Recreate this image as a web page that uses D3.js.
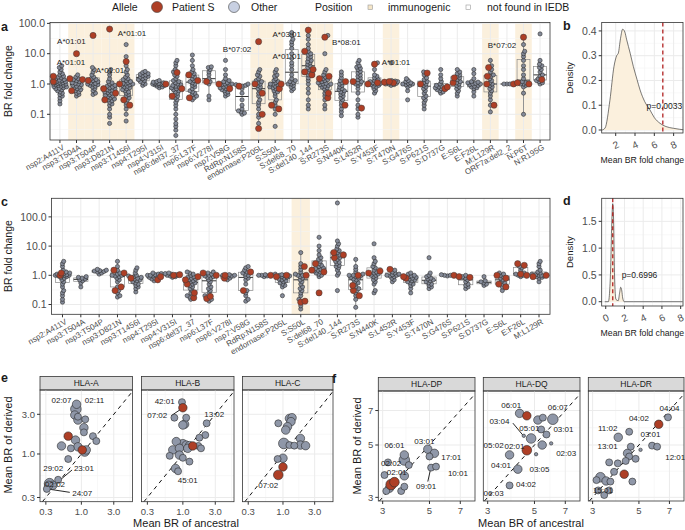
<!DOCTYPE html>
<html><head><meta charset="utf-8">
<script src="https://cdn.jsdelivr.net/npm/d3@7"></script>
<style>body{margin:0;background:#fff}svg{font-family:"Liberation Sans",Arial,sans-serif}</style>
</head><body><svg id="c" width="685" height="530"></svg>
<script>
// ---------------- DATA ----------------
const catsA = ["nsp2:A411V","nsp3:T504A","nsp3:T504P","nsp3:D821N","nsp3:T1456I","nsp4:T295I","nsp4:V315I","nsp6:del37_37","nsp6:L37F","nsp6:V278I","nsp7:V58G","RdRp:N158S","endornase:P205L","S:S50L","S:del68_70","S:del140_144","S:R273S","S:N440K","S:L452R","S:Y453F","S:T470N","S:G476S","S:P621S","S:D737G","E:S6L","E:F26L","M:L129R","ORF7a:del2_2","N:P6T","N:R195G"];
const immunoA = ["nsp3:T504A","nsp3:T504P","nsp3:D821N","nsp3:T1456I","endornase:P205L","S:S50L","S:del140_144","S:R273S","S:T470N","M:L129R","N:P6T"];
const grayA = [
 [0.22,0.28,0.35,0.4,0.45,0.5,0.55,0.6,0.65,0.7,0.72,0.75,0.8,0.82,0.85,0.9,0.92,0.95,1.0,1.0,1.02,1.05,1.1,1.12,1.15,1.2,1.25,1.3,1.35,1.4,1.5,1.6,1.7,1.8,2.0,2.2,2.5,3.0,3.5,4.0],
 [0.4,0.45,0.5,0.55,0.6,0.65,0.7,0.75,0.8,0.85,0.9,0.95,1.0,1.05,1.1,1.2,1.3,1.4,1.5,1.7,2.0],
 [0.45,0.5,0.6,0.7,0.8,0.85,0.9,0.95,1.0,1.0,1.05,1.1,1.2,1.3,1.4,1.5,1.7,2.0,2.5,3.0,3.5],
 [0.05,0.08,0.1,0.15,0.2,0.22,0.25,0.28,0.3,0.32,0.35,0.38,0.4,0.42,0.45,0.5,0.52,0.55,0.6,0.62,0.65,0.7,0.75,0.8,0.85,0.9,1.0,1.1,1.2,1.5,2.0,2.5,3.0],
 [0.06,0.1,0.15,0.2,0.25,0.3,0.35,0.4,0.45,0.5,0.55,0.6,0.65,0.7,0.75,0.8,0.85,0.9,0.95,1.0,1.0,1.05,1.1,1.2,1.3,1.4,1.5,1.7,2.0,2.5,3.0,4.0,8.0,20],
 [0.9,1.0,1.1,1.2,1.3,1.4,1.5,1.6,1.7,1.8,1.9,2.0,2.1,2.2,2.4,2.6],
 [0.75,0.8,0.85,0.9,0.92,0.95,0.98,1.0,1.0,1.02,1.05,1.08,1.1,1.15,1.2,1.3],
 [0.02,0.03,0.04,0.05,0.07,0.1,0.15,0.2,0.25,0.3,0.35,0.4,0.45,0.5,0.55,0.6,0.65,0.7,0.75,0.8,0.85,0.9,0.95,1.0,1.1,1.2,1.3,1.5,1.8,2.0,2.5,3.0,4.0,5.0,6.0],
 [0.3,0.35,0.4,0.45,0.5,0.55,0.6,0.7,0.8,0.9,1.0,1.1,1.2,1.3,1.5,1.7,1.9,2.2,2.5,3.0,4.0,6.0,9.0],
 [0.3,0.4,1.0,1.2,1.5,2.0,2.5,3.0,3.5,3.7],
 [0.4,0.45,0.5,0.55,0.6,0.65,0.7,0.75,0.8,0.85,0.9,0.95,1.0,1.0,1.1,1.2,1.3,1.5,2.0,3.0,6.0],
 [0.1,0.11,0.12,0.13,0.15,0.2,0.3,0.5,0.7,0.85,0.9,0.95,1.0],
 [0.05,0.08,0.1,0.15,0.2,0.25,0.3,0.4,0.5,0.6,0.7,0.8,0.9,1.0,1.1,1.2,1.3,1.5,1.8,2.0,2.5,3.0],
 [0.04,0.1,0.15,0.2,0.25,0.3,0.4,0.5,0.55,0.6,0.7,0.75,0.8,0.85,0.9,1.0,1.0,1.1,1.2,1.3,1.5,1.8,2.0,2.5,3.0],
 [0.6,0.7,0.8,0.9,1.0,1.0,1.1,1.2,1.3,1.5,2.0,3.0,4.0,5.0,7.0,10,15,20,25,30,40,50],
 [0.15,0.2,0.3,0.5,0.7,1.0,1.3,1.6,2.0,2.5,3.0,3.5,4.0,4.5,5.0,5.5,6.0,7.0,8.0,9.0,10,12,15,20,30,40],
 [0.15,0.2,0.3,0.4,0.5,0.6,0.7,0.75,0.8,0.85,0.9,0.95,1.0,1.0,1.05,1.1,1.2,1.3,1.4,1.5,1.7,2.0,2.5,3.0,10,40],
 [0.09,0.12,0.15,0.2,0.25,0.3,0.35,0.4,0.45,0.5,0.55,0.6,0.65,0.7,0.8,0.9,1.0,1.1,1.3,1.6,2.0,2.5],
 [0.08,0.1,0.15,0.2,0.3,0.5,0.7,0.9,1.0,1.0,1.1,1.2,1.4,1.6,1.8,2.0,2.3,2.6,3.0,3.3,3.6,4.0,5.0,6.0],
 [0.5,0.6,0.7,0.8,0.85,0.9,0.95,1.0,1.05,1.1,1.2,1.3,1.4,1.6,1.8,2.0,3.0,5.0],
 [0.9,0.95,1.0,1.0,1.05,1.1,1.15,1.2,1.25,1.3,5.0],
 [0.3,0.6,0.8,0.9,0.95,1.0,1.0,1.05,1.1,1.2,1.3,1.5],
 [0.15,0.2,0.25,0.3,0.35,0.4,0.5,0.6,0.7,0.8,0.9,1.0,1.1,1.2,1.4,1.6,2.0,2.5],
 [0.5,0.55,0.6,0.65,0.7,0.75,0.8,0.85,0.9,1.0,1.2,1.5,2.0,3.0],
 [0.4,0.5,0.6,0.7,0.8,0.9,1.0,1.1,1.2,1.4,1.6,1.8,2.0,2.2,2.5,3.0],
 [0.4,0.55,0.7,0.75,0.8,0.85,0.9,0.95,1.0,1.0,1.05,1.1,1.15,1.2,1.5,2.2,3.0],
 [0.12,0.2,0.3,0.4,0.5,0.6,0.7,0.8,0.9,1.0,1.1,1.3,1.5,1.8,2.0,2.5,3.0,4.0,6.0],
 [1.0,1.0,1.0],
 [0.1,0.5,0.8,0.9,1.0,1.0,1.1,1.2,1.5,2.0,3.0,4.0,6.0,8.0,10,12,20],
 [1.0,1.1,1.2,1.3,1.5,1.8,2.0,2.5,3.0,3.5,4.0,4.5,6.0,45]
];
const redA = [[1.8,1.2],[10,1.5,1.4,0.6],[40,1.3],[65,0.5,0.3,0.7],[5.5,1.0,0.3,0.2],[],[1.0],[2.4,0.4,0.7],[2.0,1.3,0.35],[1.2],[1.0,0.7],[0.85],[25,1.0,0.5,0.1,0.034],[1.0,0.7,0.2,0.15],[],[60,12,3.0,2.5,2.0],[35,1.5,1.8,0.5,0.35],[1.2,0.2],[1.2,0.16],[4.5,1.0,1.1],[1.2,1.15,1.1],[],[2.3,1.0],[0.8,0.7],[1.1,1.6],[],[3.5,1.8,1.0,0.2],[1.0],[35,1.0,1.1],[1.4]];
// allele labels: [text, category index (fractional), value]
const allelesA = [["A*01:01",0.69,24.9],["A*01:01",0.66,5.44],["A*01:01",3.02,2.9],["A*01:01",4.35,47],["B*07:02",10.7,13.9],["A*03:01",13.7,44.8],["A*01:01",13.7,8.4],["B*08:01",17.3,24.4],["A*01:01",20.3,5.44],["B*07:02",26.7,19.4]];

const catsC = ["nsp2:A411V","nsp3:T504A","nsp3:T504P","nsp3:D821N","nsp3:T1456I","nsp4:T295I","nsp4:V315I","nsp6:del37_37","nsp6:L37F","nsp6:V278I","nsp7:V58G","RdRp:N158S","endornase:P205L","S:S50L","S:del68_70","S:del140_144","S:R273S","S:N440K","S:L452R","S:Y453F","S:T470N","S:G476S","S:P621S","S:D737G","E:S6L","E:F26L","M:L129R"];
const immunoC = ["S:S50L"];
const grayC = [
 [0.12,0.15,0.2,0.25,0.3,0.4,0.5,0.6,0.7,0.8,0.85,0.9,0.95,1.0,1.0,1.0,1.0,1.05,1.1,1.15,1.2,1.3,1.5,2.0,2.5,3.0],
 [0.4,0.55,0.65,0.7,0.75,0.8,0.85,0.9],
 [1.1,1.2,1.3,1.35,1.4,1.45,1.5,1.6],
 [0.18,0.2,0.25,0.3,0.4,0.6,0.7,0.8,0.9,0.95,1.0,1.0,1.1,1.2,1.5,2.0,3.0],
 [0.27,0.35,0.4,0.45,0.5,0.55,0.6,0.65,0.7,0.75,0.8,0.85,0.9,0.95,1.0,1.2,1.5,1.8],
 [0.65,0.75,0.8,0.85,0.9,0.95,1.0,1.0,1.05,1.1,1.15,1.2],
 [0.85,0.9,0.95,1.0,1.0,1.05,1.1,1.15,1.2],
 [0.15,0.18,0.2,0.25,0.3,0.35,0.4,0.45,0.5,0.55,0.6,0.65,0.7,0.75,0.8,0.85,0.9,1.0,1.1,1.2,1.3],
 [0.13,0.15,0.2,0.25,0.3,0.35,0.4,0.5,0.6,0.7,0.8,0.85,0.9,0.95,1.0,1.1,1.2,1.3],
 [0.7,0.8,0.9,0.95,1.0,1.0,1.05],
 [0.13,0.15,0.2,0.25,0.3,0.5,0.7,0.8,0.9,1.0,1.1,1.2,1.3,1.5,1.8,2.0],
 [0.9,0.95,1.0,1.0,1.05],
 [0.2,0.4,0.45,0.5,0.55,0.6,0.65,0.7,0.75,0.8,0.85,0.9,0.95,1.0,1.0,1.05,1.1],
 [0.07,0.09,0.15,0.2,0.25,0.3,0.35,0.4,0.5,0.6,0.7,0.8,0.9,1.0,1.0,1.1,1.3,1.6,2.0,2.5,6.0],
 [0.9,1.0,1.1,1.2,1.3,1.4,1.5,1.6,1.7,1.8,2.0,2.2,2.5,3.0,3.5,4.0,5.0,7.0,10,20],
 [0.3,1.0,1.2,1.5,1.8,2.0,2.2,2.5,2.8,3.0,3.5,4.0,4.5,5.0,6.0,7.0,8.0,10,12,15,300],
 [0.08,0.15,0.2,0.25,0.3,0.35,0.4,0.5,0.55,0.6,0.7,0.75,0.8,0.85,0.9,0.95,1.0,1.0,1.1,1.3,1.6,2.0,3.5],
 [0.25,0.3,0.5,0.6,0.7,0.8,0.9,1.0,1.0,1.1,1.2,1.3,1.5,1.8,2.0,2.5,3.0,4.0,12],
 [0.6,0.7,0.8,0.9,0.95,1.0,1.0,1.05,1.1,1.2,1.3,1.5],
 [0.25,0.35,0.45,0.5,0.55,0.6,0.65,0.7,0.75,0.8,0.85,0.9,0.95,1.0,1.1,1.2],
 [0.35,0.4,0.45,0.5,0.55,0.6,0.65,0.7,0.75,0.8,0.9,1.0,1.2,4.0],
 [0.95,1.0,1.0,1.05],
 [0.35,0.4,0.45,0.5,0.6,0.7,0.8,0.9,1.0],
 [0.45,0.5,0.55,0.6,0.65,0.9],
 [0.3,0.4,0.5,0.55,0.6,0.7,0.8,0.9,1.0,1.1,1.2],
 [0.9,1.0,1.0,1.1,1.2,1.5,1.8,2.0],
 [0.6,0.8,0.85,0.9,0.95,1.0,1.0,1.05,1.1,1.2,1.3,1.5,2.0,2.5,3.0]
];
const redC = [[1.0,1.2],[],[],[1.5,1.2,0.4,0.3],[0.8],[0.7,0.9],[1.0,1.05],[0.17,0.25,0.5,0.7,0.9],[0.16,0.19,1.0,1.2],[0.8,1.0],[1.3,0.3],[1.0],[0.9,1.0],[0.12,0.13,2.0,1.0],[0.25,1.3,2.5,1.5],[5.0,4.0,6.0],[0.2,0.3,0.45,1.0],[1.2,1.4],[1.6],[0.9,0.8],[],[1.0],[0.9,0.85],[],[0.5,0.4,1.0,0.8],[2.5,2.2,1.0,1.1],[1.0,0.9]];

// density curves (mean BR fold change, density)
const densBx = [0.6,0.9,1.4,1.82,2.1,2.27,2.5,2.72,2.95,3.14,3.5,3.83,4.2,4.52,5.0,5.55,6.0,6.59,7.2,7.97,8.6,9.0];
const densBy = [0,0.008,0.12,0.256,0.3,0.31,0.37,0.407,0.395,0.364,0.31,0.256,0.205,0.162,0.115,0.081,0.05,0.027,0.014,0.007,0.003,0.001];
const obsB = 6.88, pB = "p=0.0033";
const densDx = [-0.1,0.28,0.42,0.53,0.64,0.75,0.85,0.92,1.02,1.1,1.34,1.47,1.6,1.72,1.81,1.98,3,5,8.2];
const densDy = [0,0,0.2,0.65,1.45,1.83,1.45,0.65,0.15,0.04,0.02,0.15,0.27,0.2,0.07,0,0,0,0];
const obsD = 0.75, pD = "p=0.6996";

// scatter facets: [ancestral, derived, size class, patient S]
const hlaA = [[0.83,3.47,4,0],[0.85,3.96,2,0],[0.80,2.94,2,0],[0.89,2.81,1,0],[0.89,2.56,2,0],[1.14,2.61,1,0],[1.09,2.07,2,0],[1.09,1.82,1,0],[0.64,1.64,2,1],[0.82,1.47,2,0],[1.48,1.64,1,0],[1.66,1.43,1,0],[0.51,1.25,2,0],[0.70,1.17,1,0],[0.89,1.22,2,0],[1.12,1.07,3,0],[1.18,1.12,2,0],[1.03,1.12,2,1],[0.64,0.87,1,0],[0.455,0.49,1,0],[0.34,0.44,4,0],[0.38,0.42,2,0],[0.31,0.38,1,0],[0.33,0.42,2,0]];
const hlaB = [[0.97,4.2,1,0],[0.75,2.73,1,0],[1.12,2.73,1,0],[1.06,2.28,2,0],[1.0,2.23,2,0],[2.24,2.34,1,0],[2.14,1.69,1,0],[1.75,1.57,1,0],[0.80,1.41,2,0],[1.0,1.31,3,0],[1.12,1.28,2,0],[1.25,1.26,2,0],[0.71,1.12,2,0],[0.89,1.17,2,0],[1.18,1.17,2,0],[0.64,0.95,1,0],[0.89,0.97,2,0],[1.0,0.90,1,0],[1.25,0.81,1,0],[0.78,0.67,2,0],[0.85,0.62,1,0],[1.69,1.25,1,0],[1.85,1.17,1,0],[1.0,3.6,2,1],[1.40,1.25,2,1]];
const hlaC = [[0.85,2.34,1,0],[1.25,2.68,2,0],[1.37,2.73,2,0],[1.32,2.45,2,0],[1.17,2.13,2,0],[1.10,1.94,2,0],[1.03,1.34,4,0],[1.25,1.28,1,0],[1.48,1.26,1,0],[1.83,1.54,2,0],[1.83,1.28,2,0],[2.19,1.26,2,0],[0.83,0.87,1,0],[1.0,0.89,2,0],[1.0,0.70,2,1],[0.85,0.56,3,1]];
const hlaDP = [[3.18,4.22,1,0],[3.80,4.32,4,0],[3.80,4.54,2,0],[3.99,4.11,1,0],[3.80,3.70,2,0],[3.06,3.73,1,0],[3.23,3.28,2,0],[3.67,3.19,1,0],[3.80,3.33,1,0],[3.12,3.19,1,0],[4.91,4.80,2,0],[5.28,4.61,2,0],[5.0,4.47,1,0],[5.09,4.01,1,0],[5.37,4.05,1,0],[3.29,3.40,4,1],[3.41,3.48,3,1]];
const hlaDQ = [[4.25,6.81,2,0],[5.19,6.38,2,0],[5.48,6.53,1,0],[6.11,6.43,4,0],[5.38,5.82,1,0],[5.70,5.54,1,0],[4.45,5.47,0,0],[4.82,5.33,3,0],[6.0,5.08,0,0],[5.44,5.0,2,0],[5.09,4.57,0,0],[3.81,4.54,2,0],[4.17,3.95,2,0],[3.81,3.37,1,0],[4.60,6.65,2,1],[4.60,4.75,3,1]];
const hlaDR = [[6.89,6.55,1,0],[4.49,5.69,1,0],[3.98,5.39,2,0],[5.78,4.97,1,0],[6.11,4.92,1,0],[5.09,4.77,0,0],[4.57,4.92,1,0],[4.41,4.61,2,0],[4.49,4.47,1,0],[4.32,4.28,1,0],[4.82,4.37,1,0],[3.96,4.18,1,0],[3.6,4.22,1,0],[3.8,3.85,1,0],[4.65,3.5,1,0],[3.27,3.65,3,0],[3.48,3.52,2,0],[3.65,3.5,1,0],[3.13,3.55,1,0],[3.19,3.21,1,0],[3.41,3.07,1,0],[3.6,3.21,1,0],[6.22,6.12,2,1],[4.25,3.76,2,1]];
// labels: [text, x, y] ; lines: [x1,y1,x2,y2]
const labA = [["02:07",0.51,4.46],["02:11",1.56,4.46],["29:02",0.385,0.666],["23:01",1.09,0.666],["02:02",0.41,0.436],["24:07",1.03,0.34]];
const linA = [[0.73,0.643,0.455,0.465],[0.675,0.346,0.318,0.38]];
const labB = [["42:01",0.54,4.37],["07:02",0.42,2.89],["13:02",2.9,3.0],["45:01",1.18,0.487]];
const linB = [[0.675,2.89,0.977,3.54]];
const labC = [["07:02",0.6,0.42]];
const labDP = [["06:01",3.41,5.0],["03:01",4.73,5.2],["17:01",6.34,4.42],["02:02",3.29,4.2],["02:01",3.5,3.84],["10:01",6.82,3.79],["09:01",4.82,3.35]];
const linDP = [[4.91,3.5,5.05,3.92]];
const labDQ = [["06:01",3.88,7.38],["06:07",6.45,7.2],["03:04",3.41,6.28],["05:01",4.73,5.89],["03:01",6.86,5.85],["05:02",3.2,5.0],["02:01",4.02,4.92],["02:03",7.07,4.61],["04:01",3.47,4.09],["03:05",5.28,3.96],["04:02",4.56,3.41],["06:03",3.2,3.12]];
const linDQ = [[3.95,6.19,4.41,5.5]];
const labDR = [["04:04",7.01,7.15],["04:02",5.0,6.49],["11:02",3.54,5.92],["03:01",5.68,5.55],["13:01",3.54,4.92],["12:01",7.46,4.46],["15:01",3.36,3.22]];

// ---------------- STYLE ----------------
const svg = d3.select("#c");
const RED = "#ae3f26", PGRAY = "#848a98", SGRAY = "#8f97a8", BAND = "#fbf0dd";
const GRIDC = "#ebebeb", GRIDM = "#f4f4f4", BORDER = "#333", TXT = "#4d4d4d";

function txt(g, s, x, y, o = {}) {
  const t = g.append("text").attr("x", x).attr("y", y).text(s)
    .attr("font-size", o.size || 10).attr("fill", o.fill || "#1a1a1a")
    .attr("text-anchor", o.anchor || "start");
  if (o.weight) t.attr("font-weight", o.weight);
  if (o.rot != null) t.attr("transform", `rotate(${o.rot},${x},${y})`);
  if (o.dy) t.attr("dy", o.dy);
  return t;
}
function frame(g, x0, y0, x1, y1) {
  g.append("rect").attr("x", x0).attr("y", y0).attr("width", x1 - x0).attr("height", y1 - y0)
    .attr("fill", "none").attr("stroke", BORDER).attr("stroke-width", 0.8);
}
function hgrid(g, y, vals, x0, x1, c, w) {
  g.selectAll(null).data(vals).join("line").attr("x1", x0).attr("x2", x1)
    .attr("y1", d => y(d)).attr("y2", d => y(d)).attr("stroke", c).attr("stroke-width", w);
}
function vgrid(g, x, vals, y0, y1, c, w) {
  g.selectAll(null).data(vals).join("line").attr("y1", y0).attr("y2", y1)
    .attr("x1", d => x(d)).attr("x2", d => x(d)).attr("stroke", c).attr("stroke-width", w);
}

// ---------------- LEGEND ----------------
const lg = svg.append("g");
txt(lg, "Allele", 112, 11, {size: 10.5});
lg.append("circle").attr("cx", 157).attr("cy", 7).attr("r", 5.5).attr("fill", RED).attr("stroke", "#444").attr("stroke-width", 0.6);
txt(lg, "Patient S", 172, 11, {size: 10.5});
lg.append("circle").attr("cx", 234).attr("cy", 7).attr("r", 5.5).attr("fill", "#c8d0e2").attr("stroke", "#444").attr("stroke-width", 0.6);
txt(lg, "Other", 251, 11, {size: 10.5});
txt(lg, "Position", 315, 11, {size: 10.5});
lg.append("rect").attr("x", 368).attr("y", 5).attr("width", 4.5).attr("height", 4.5).attr("fill", "#f5e6c8").attr("stroke", "#999").attr("stroke-width", 0.6);
txt(lg, "immunogenic", 388, 11, {size: 10.5});
lg.append("rect").attr("x", 466).attr("y", 5).attr("width", 4.5).attr("height", 4.5).attr("fill", "#fff").attr("stroke", "#999").attr("stroke-width", 0.6);
txt(lg, "not found in IEDB", 487, 11, {size: 10.5});

// ---------------- BEESWARM BOX PANELS ----------------
function swarm(items, cx, y, maxHalf) {
  const placed = [];
  const sorted = items.slice().sort((a, b) => y(b.v) - y(a.v) || a.red - b.red);
  for (const it of sorted) {
    const py = y(it.v);
    let best = null, bestScore = -1, bestOff = 0;
    for (let k = 0; k < 400; k++) {
      const off = k === 0 ? 0 : (k % 2 ? 1 : -1) * Math.ceil(k / 2) * 0.6;
      if (Math.abs(off) > maxHalf) break;
      let minRatio = 9;
      for (const p of placed) {
        const dx = cx + off - p.x, dy = py - p.y;
        const md = (it.r + p.r) * 0.62;
        const r = Math.sqrt(dx * dx + dy * dy) / md;
        if (r < minRatio) minRatio = r;
      }
      if (minRatio >= 1) { best = off; break; }
      if (minRatio > bestScore) { bestScore = minRatio; bestOff = off; }
    }
    if (best === null) best = bestOff;
    placed.push({x: cx + best, y: py, r: it.r, red: it.red});
  }
  return placed;
}
function boxStats(vals) {
  const l = vals.map(v => Math.log10(v)).sort(d3.ascending);
  const q1 = d3.quantile(l, 0.25), md = d3.quantile(l, 0.5), q3 = d3.quantile(l, 0.75);
  const iqr = q3 - q1;
  const lo = d3.min(l.filter(v => v >= q1 - 1.5 * iqr)), hi = d3.max(l.filter(v => v <= q3 + 1.5 * iqr));
  return [q1, md, q3, lo, hi].map(v => Math.pow(10, v));
}
function boxPanel(cfg) {
  const {cats, gray, red, immuno, x0, x1, y0, y1, dom, alleles, ytitleY, label, labelY} = cfg;
  const g = svg.append("g");
  const x = d3.scalePoint().domain(cats).range([x0, x1]).padding(0.6);
  const y = d3.scaleLog().domain(dom).range([y1, y0]);
  const st = x.step();
  g.selectAll(null).data(immuno).join("rect").attr("x", d => x(d) - st / 2).attr("width", st)
    .attr("y", y0).attr("height", y1 - y0).attr("fill", BAND);
  hgrid(g, y, [0.0316, 0.316, 3.16, 31.6], x0, x1, GRIDM, 0.6);
  hgrid(g, y, [0.1, 1, 10, 100], x0, x1, GRIDC, 1);
  vgrid(g, x, cats, y0, y1, GRIDC, 1);
  cats.forEach((c, i) => {
    const all = gray[i].concat(red[i]);
    if (!all.length) return;
    const [q1, md, q3, lo, hi] = boxStats(all);
    const cx = x(c), bw = st * 0.78;
    g.append("line").attr("x1", cx).attr("x2", cx).attr("y1", y(hi)).attr("y2", y(q3)).attr("stroke", "#555").attr("stroke-width", 0.6);
    g.append("line").attr("x1", cx).attr("x2", cx).attr("y1", y(q1)).attr("y2", y(lo)).attr("stroke", "#555").attr("stroke-width", 0.6);
    g.append("rect").attr("x", cx - bw / 2).attr("width", bw).attr("y", y(q3)).attr("height", Math.max(0, y(q1) - y(q3)))
      .attr("fill", "none").attr("stroke", "#8a8a8a").attr("stroke-width", 0.7);
    g.append("line").attr("x1", cx - bw / 2).attr("x2", cx + bw / 2).attr("y1", y(md)).attr("y2", y(md)).attr("stroke", "#333").attr("stroke-width", 1);
    const items = gray[i].map(v => ({v, red: 0, r: 2.1})).concat(red[i].map(v => ({v, red: 1, r: 3.1})));
    const pts = swarm(items, cx, y, st * 0.4);
    g.selectAll(null).data(pts.filter(p => !p.red)).join("circle").attr("cx", p => p.x).attr("cy", p => p.y).attr("r", 2.1)
      .attr("fill", PGRAY).attr("stroke", "#262626").attr("stroke-width", 0.55);
    g.selectAll(null).data(pts.filter(p => p.red)).join("circle").attr("cx", p => p.x).attr("cy", p => p.y).attr("r", 3.1)
      .attr("fill", RED).attr("stroke", "#3a3a3a").attr("stroke-width", 0.5);
  });
  const xi = i => x(cats[0]) + i * st;
  (alleles || []).forEach(a => txt(g, a[0], xi(a[1]), y(a[2]), {size: 8, anchor: "middle", dy: "0.35em"}));
  frame(g, x0, y0, x1, y1);
  // axes
  [0.1, 1, 10, 100].forEach(v => {
    g.append("line").attr("x1", x0 - 3).attr("x2", x0).attr("y1", y(v)).attr("y2", y(v)).attr("stroke", BORDER);
    txt(g, d3.format(".1f")(v), x0 - 5, y(v), {size: 10.5, anchor: "end", fill: TXT, dy: "0.35em"});
  });
  cats.forEach(c => {
    g.append("line").attr("x1", x(c)).attr("x2", x(c)).attr("y1", y1).attr("y2", y1 + 3).attr("stroke", BORDER);
    txt(g, c, x(c) + 2, y1 + 4, {size: 8, anchor: "end", fill: TXT, rot: -30, dy: "0.72em"});
  });
  txt(g, "BR fold change", 12, ytitleY, {size: 10.5, anchor: "middle", rot: -90});
  txt(g, label, 1, labelY, {size: 12.5, weight: "bold"});
}
boxPanel({cats: catsA, gray: grayA, red: redA, immuno: immunoA, x0: 50, x1: 550, y0: 22.5, y1: 140, dom: [0.0142, 107],
  alleles: allelesA, ytitleY: 81, label: "a", labelY: 31});
boxPanel({cats: catsC, gray: grayC, red: redC, immuno: immunoC, x0: 51.5, x1: 550, y0: 198.3, y1: 314.3, dom: [0.0462, 433],
  alleles: [], ytitleY: 256, label: "c", labelY: 206});

// ---------------- DENSITY PANELS ----------------
function densPanel(cfg) {
  const {xs, ys, obs, p, x0, x1, y0, y1, xdom, ydom, xmaj, xmin, ymaj, ymin, yfmt, px, py, label} = cfg;
  const g = svg.append("g");
  const x = d3.scaleLinear().domain(xdom).range([x0, x1]);
  const y = d3.scaleLinear().domain(ydom).range([y1, y0]);
  hgrid(g, y, ymin, x0, x1, GRIDM, 0.6); vgrid(g, x, xmin, y0, y1, GRIDM, 0.6);
  hgrid(g, y, ymaj, x0, x1, GRIDC, 1); vgrid(g, x, xmaj, y0, y1, GRIDC, 1);
  const pts = xs.map((v, i) => [v, ys[i]]);
  g.append("path").datum(pts).attr("d", d3.area().x(d => x(d[0])).y0(y(0)).y1(d => y(d[1])).curve(d3.curveMonotoneX))
    .attr("fill", BAND);
  g.append("path").datum(pts).attr("d", d3.line().x(d => x(d[0])).y(d => y(d[1])).curve(d3.curveMonotoneX))
    .attr("fill", "none").attr("stroke", "#222").attr("stroke-width", 0.6);
  g.append("line").attr("x1", x(obs)).attr("x2", x(obs)).attr("y1", y0).attr("y2", y1)
    .attr("stroke", "#b22222").attr("stroke-width", 1.3).attr("stroke-dasharray", "4,3");
  txt(g, p, x(px), y(py), {size: 8.5, dy: "0.35em"});
  frame(g, x0, y0, x1, y1);
  ymaj.forEach(v => {
    g.append("line").attr("x1", x0 - 3).attr("x2", x0).attr("y1", y(v)).attr("y2", y(v)).attr("stroke", BORDER);
    txt(g, d3.format(yfmt)(v), x0 - 5, y(v), {size: 10.5, anchor: "end", fill: TXT, dy: "0.35em"});
  });
  xmaj.forEach(v => {
    g.append("line").attr("x1", x(v)).attr("x2", x(v)).attr("y1", y1).attr("y2", y1 + 3).attr("stroke", BORDER);
    txt(g, String(v), x(v), y1 + 12, {size: 10, anchor: "middle", fill: TXT, rot: -25, dy: "0.35em"});
  });
  txt(g, "Mean BR fold change", (x0 + x1) / 2, y1 + 30, {size: 8.7, anchor: "middle"});
  txt(g, "Density", 573, (y0 + y1) / 2, {size: 9.5, anchor: "middle", rot: -90});
  txt(g, label, 563, y0 + 7, {size: 12.5, weight: "bold"});
}
densPanel({xs: densBx, ys: densBy, obs: obsB, p: pB, x0: 601.7, x1: 683, y0: 22.5, y1: 133, xdom: [0.55, 8.97], ydom: [-0.0121, 0.434],
  xmaj: [2, 4, 6, 8], xmin: [1, 3, 5, 7], ymaj: [0, 0.1, 0.2, 0.3, 0.4], ymin: [0.05, 0.15, 0.25, 0.35], yfmt: ".1f", px: 5.2, py: 0.098, label: "b"});
densPanel({xs: densDx, ys: densDy, obs: obsD, p: pD, x0: 601.7, x1: 683, y0: 198.3, y1: 306, xdom: [-0.43, 8.25], ydom: [-0.08, 1.93],
  xmaj: [0, 2, 4, 6, 8], xmin: [1, 3, 5, 7], ymaj: [0, 0.5, 1, 1.5], ymin: [0.25, 0.75, 1.25, 1.75], yfmt: ".1f", px: 1.7, py: 0.5, label: "d"});

// ---------------- SCATTER FACETS ----------------
const rScale = d3.scaleSqrt().domain([0, 4]).range([1.7, 5.3]);
function facet(cfg) {
  const {name, data, labs, lins, x0, x1, y0, y1, xdom, ydom, ticks, fmt, minor, showY} = cfg;
  const g = svg.append("g");
  const x = d3.scaleLog().domain(xdom).range([x0, x1]);
  const y = d3.scaleLog().domain(ydom).range([y1, y0]);
  g.append("rect").attr("x", x0).attr("y", y0 - 13.5).attr("width", x1 - x0).attr("height", 13.5)
    .attr("fill", "#d9d9d9").attr("stroke", BORDER).attr("stroke-width", 0.8);
  txt(g, name, (x0 + x1) / 2, y0 - 6.5, {size: 8.5, anchor: "middle", dy: "0.35em"});
  vgrid(g, x, minor.filter(v => v > xdom[0] && v < xdom[1]), y0, y1, GRIDM, 0.6);
  hgrid(g, y, minor.filter(v => v > ydom[0] && v < ydom[1]), x0, x1, GRIDM, 0.6);
  vgrid(g, x, ticks, y0, y1, GRIDC, 1);
  hgrid(g, y, ticks, x0, x1, GRIDC, 1);
  const a = Math.max(xdom[0], ydom[0]), b = Math.min(xdom[1], ydom[1]);
  g.append("line").attr("x1", x(a)).attr("y1", y(a)).attr("x2", x(b)).attr("y2", y(b))
    .attr("stroke", "#111").attr("stroke-width", 1).attr("stroke-dasharray", "4,4");
  (lins || []).forEach(l => g.append("line").attr("x1", x(l[0])).attr("y1", y(l[1])).attr("x2", x(l[2])).attr("y2", y(l[3]))
    .attr("stroke", "#111").attr("stroke-width", 0.9));
  const sorted = data.slice().sort((p, q) => p[3] - q[3] || q[2] - p[2]);
  g.selectAll(null).data(sorted).join("circle").attr("cx", d => x(d[0])).attr("cy", d => y(d[1])).attr("r", d => rScale(d[2]))
    .attr("fill", d => d[3] ? RED : SGRAY).attr("stroke", "#2a2a2a").attr("stroke-width", 0.6);
  labs.forEach(l => txt(g, l[0], x(l[1]), y(l[2]), {size: 8, anchor: "middle", fill: "#222", dy: "0.35em"}));
  frame(g, x0, y0, x1, y1);
  ticks.forEach(v => {
    g.append("line").attr("x1", x(v)).attr("x2", x(v)).attr("y1", y1).attr("y2", y1 + 3).attr("stroke", BORDER);
    txt(g, fmt(v), x(v), y1 + 10, {size: 9.5, anchor: "middle", fill: TXT, dy: "0.35em"});
    if (showY) {
      g.append("line").attr("x1", x0 - 3).attr("x2", x0).attr("y1", y(v)).attr("y2", y(v)).attr("stroke", BORDER);
      txt(g, fmt(v), x0 - 5, y(v), {size: 9.5, anchor: "end", fill: TXT, dy: "0.35em"});
    }
  });
}
const eDomX = [0.246, 5.66], eDomY = [0.267, 5.88], eTicks = [0.3, 1, 3], eMinor = [0.549, 1.73, 5.2];
const f1 = d3.format(".1f"), f0 = d3.format("d");
facet({name: "HLA-A", data: hlaA, labs: labA, lins: linA, x0: 40, x1: 132.5, y0: 390, y1: 501.7, xdom: eDomX, ydom: eDomY, ticks: eTicks, fmt: f1, minor: eMinor, showY: true});
facet({name: "HLA-B", data: hlaB, labs: labB, lins: linB, x0: 141.5, x1: 234, y0: 390, y1: 501.7, xdom: eDomX, ydom: eDomY, ticks: eTicks, fmt: f1, minor: eMinor});
facet({name: "HLA-C", data: hlaC, labs: labC, lins: [], x0: 242.5, x1: 333, y0: 390, y1: 501.7, xdom: eDomX, ydom: eDomY, ticks: eTicks, fmt: f1, minor: eMinor});
const fDomX = [2.86, 8.22], fDomY = [2.895, 8.47], fTicks = [3, 5, 7], fMinor = [3.87, 5.92, 8.28];
facet({name: "HLA-DP", data: hlaDP, labs: labDP, lins: linDP, x0: 378.3, x1: 475, y0: 391, y1: 501, xdom: fDomX, ydom: fDomY, ticks: fTicks, fmt: f0, minor: fMinor, showY: true});
facet({name: "HLA-DQ", data: hlaDQ, labs: labDQ, lins: linDQ, x0: 483.3, x1: 580, y0: 391, y1: 501, xdom: fDomX, ydom: fDomY, ticks: fTicks, fmt: f0, minor: fMinor});
facet({name: "HLA-DR", data: hlaDR, labs: labDR, lins: [], x0: 588.3, x1: 684, y0: 391, y1: 501, xdom: fDomX, ydom: fDomY, ticks: fTicks, fmt: f0, minor: fMinor});
const ax = svg.append("g");
txt(ax, "Mean BR of ancestral", 186, 527, {size: 11, anchor: "middle"});
txt(ax, "Mean BR of ancestral", 531, 527, {size: 11, anchor: "middle"});
txt(ax, "Mean BR of derived", 12, 445, {size: 11, anchor: "middle", rot: -90});
txt(ax, "Mean BR of derived", 361, 446, {size: 11, anchor: "middle", rot: -90});
txt(ax, "e", 1, 382, {size: 12.5, weight: "bold"});
txt(ax, "f", 332, 383, {size: 12.5, weight: "bold"});
</script></body></html>
